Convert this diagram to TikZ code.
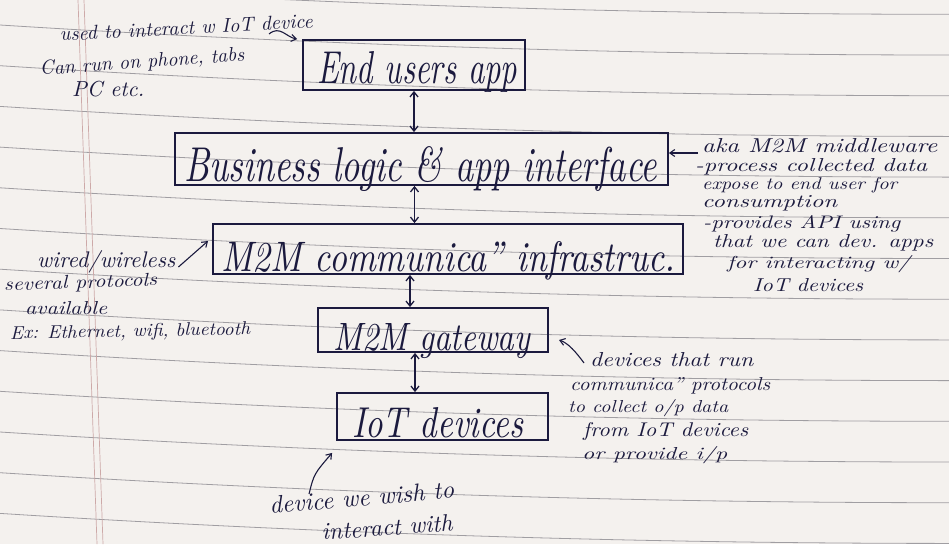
\documentclass[tikz,border=0pt]{standalone}
\usepackage{fontspec}
\usepackage{graphicx}
\usetikzlibrary{arrows.meta}

\definecolor{paper}{HTML}{F4F1EE}
\definecolor{rule}{HTML}{A09EA2}
\definecolor{margin}{HTML}{CDA9A8}
\definecolor{ink}{HTML}{1B1A3E}

% handwritten-looking line of text stretched to a given width (and height)
\newcommand\hw[3]{\resizebox{#1pt}{#2}{\itshape #3}}

\begin{document}
\begin{tikzpicture}[x=1pt,y=-1pt,
  box/.style={draw=ink, line width=1.8pt, inner sep=0pt},
  hand/.style={inner sep=0pt, text=ink, anchor=base west},
  link/.style={draw=ink, line width=1.3pt,
    {Straight Barb[length=5pt,width=8pt]}-{Straight Barb[length=5pt,width=8pt]}},
  note/.style={draw=ink, line width=1.1pt, -{Straight Barb[length=5pt,width=7pt]}},
  paperrule/.style={draw=rule, line width=0.8pt},
  marginrule/.style={draw=margin, line width=0.7pt},
]
% notebook page
\fill[paper] (0,0) rectangle (949,544);
\useasboundingbox (0,0) rectangle (949,544);
\foreach \k in {-1,...,13}{
  \pgfmathsetmacro\yl{25+40.7*\k}
  \draw[paperrule] plot[domain=0:949, samples=30, smooth]
    (\x, {\yl + 30*(1-(1-\x/949)^2)});
}
\draw[marginrule] (78,0) -- (97,544);
\draw[marginrule] (84,0) -- (103,544);

% layer boxes
\node[box, minimum width=222pt, minimum height=50pt] (endapp) at (414,65) {};
\node[box, minimum width=493pt, minimum height=52pt] (biz) at (421.5,159) {};
\node[box, minimum width=470pt, minimum height=50pt] (infra) at (448,249) {};
\node[box, minimum width=230pt, minimum height=44pt] (gw) at (433,330) {};
\node[box, minimum width=211pt, minimum height=47pt] (iot) at (442.5,416.5) {};

\node[hand] (endtxt) at (317,83) {\hw{200}{32pt}{End users app}};
\node[hand] (biztxt) at (184,181) {\hw{473}{35pt}{Business logic \& app interface}};
\node[hand] (infratxt) at (221,271) {\hw{454}{30pt}{M2M communica” infrastruc.}};
\node[hand] (gwtxt) at (333,350) {\hw{197}{27pt}{M2M gateway}};
\node[hand] (iottxt) at (352,437) {\hw{171}{30pt}{IoT devices}};

% two-way links between layers
\draw[link] (endapp.south) -- (endapp.south |- biz.north);
\draw[link] ([xshift=-7pt]biz.south) -- ([xshift=-7pt]biz.south |- infra.north);
\draw[link] ([xshift=-23pt]gw.north |- infra.south) -- ([xshift=-23pt]gw.north);
\draw[link] ([xshift=-18pt]gw.south) -- ([xshift=-18pt]gw.south |- iot.north);

% end user app notes
\node[hand, rotate=3] (u1) at (60,41) {\hw{253}{!}{used to interact w IoT device}};
\node[hand, rotate=4] (u2) at (40,75) {\hw{205}{!}{Can run on phone, tabs}};
\node[hand] (u3) at (72,96) {\hw{72}{!}{PC etc.}};
\coordinate (utail) at (269,34);
\draw[note] (utail) .. controls (280,25) and (286,37) .. ([xshift=-5pt]endapp.north west);

% middleware notes
\coordinate (bizhook) at (698,153);
\draw[note] (bizhook) -- (bizhook -| biz.east);
\node[hand] (b1) at (702,152) {\hw{235}{14pt}{aka M2M middleware}};
\node[hand] (b2) at (695,171) {\hw{232}{13pt}{-process collected data}};
\node[hand] (b3) at (702,189) {\hw{195}{12pt}{expose to end user for}};
\node[hand] (b4) at (702,207) {\hw{135}{12pt}{consumption}};
\node[hand] (b5) at (703,228) {\hw{197}{13pt}{-provides API using}};
\node[hand] (b6) at (713,247) {\hw{220}{13pt}{that we can dev. apps}};
\node[hand] (b7) at (727,268) {\hw{183}{13pt}{for interacting w/}};
\node[hand] (b8) at (753,291) {\hw{110}{13pt}{IoT devices}};

% infrastructure notes
\node[hand] (w1) at (37,267) {\hw{138}{!}{wired/wireless}};
\coordinate (whead) at (208,241);
\draw[note] ([xshift=3pt]w1.base east) -- (whead);
\node[hand, rotate=2] (w2) at (4,291) {\hw{153}{13pt}{several protocols}};
\node[hand] (w3) at (25,314) {\hw{82}{13pt}{available}};
\node[hand, rotate=1] (w4) at (10,339) {\hw{240}{13pt}{Ex: Ethernet, wifi, bluetooth}};

% gateway notes
\coordinate (gtail) at (584,363);
\coordinate (ghead) at (559,340);
\draw[note] (gtail) .. controls (576,352) and (568,343) .. (ghead);
\node[hand] (g1) at (590,366) {\hw{163}{14pt}{devices that run}};
\node[hand] (g2) at (570,390) {\hw{200}{13pt}{communica” protocols}};
\node[hand] (g3) at (568,412) {\hw{160}{13pt}{to collect o/p data}};
\node[hand] (g4) at (583,436) {\hw{165}{14pt}{from IoT devices}};
\node[hand] (g5) at (582,459) {\hw{145}{13pt}{or provide i/p}};

% device notes
\coordinate (itail) at (309,494);
\draw[note] (itail) .. controls (314,474) .. ([xshift=-4pt,yshift=-12pt]iot.south west);
\node[hand, rotate=5] (d1) at (270,514) {\hw{185}{!}{device we wish to}};
\node[hand, rotate=4] (d2) at (322,540) {\hw{131}{!}{interact with}};
\end{tikzpicture}
\end{document}
